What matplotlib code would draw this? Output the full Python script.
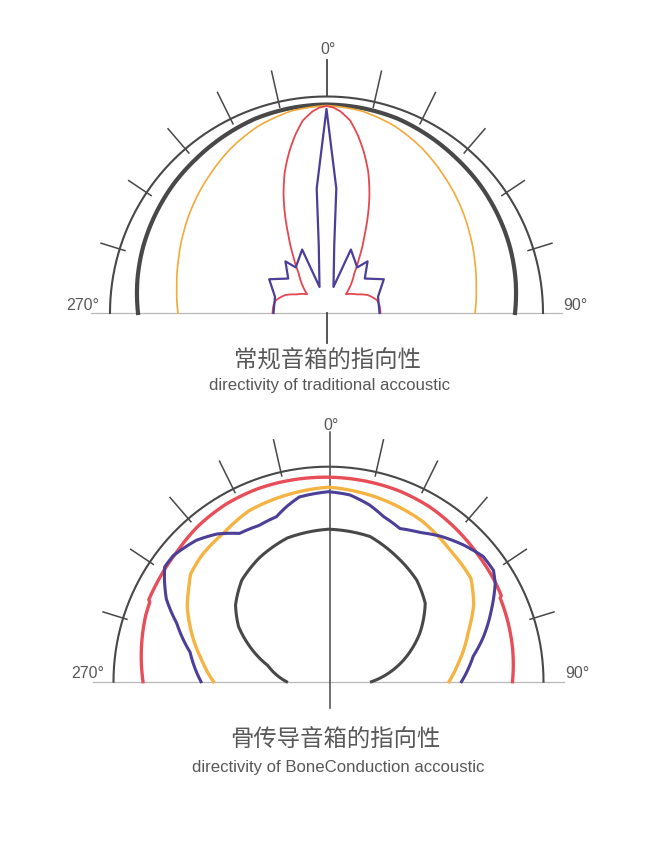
import numpy as np
import matplotlib
matplotlib.use("Agg")
import matplotlib.pyplot as plt
from matplotlib.path import Path

# ====== traditional speaker (upper chart) ======
# angles in degrees, 0 = front, negative = left (270 side), radius in px-units
trad_ring_deg = [-90, -80, -70, -60, -50, -40, -30, -20, -10, 0,
                 10, 20, 30, 40, 50, 60, 70, 80, 90]
trad_ring_r = [188.5, 192, 195, 197.5, 200, 202, 204.5, 207, 208, 208.5,
               208, 207, 204.5, 202, 200, 197.5, 195, 192, 188.5]
trad_orange_r = [148.5, 152, 157.5, 164.5, 172.5, 181, 190.5, 199, 205, 207.5,
                 205, 199, 190.5, 181, 172.5, 164.5, 157.5, 152, 148.5]
# left half of the symmetric patterns (from 270 to 0)
trad_red_deg = [-90, -81, -75.5, -66.5, -58.5, -46, -35, -30.5, -26, -23,
                -20, -16.5, -13, -10, -7, -4, -2, 0]
trad_red_r = [54, 53.5, 52, 45, 35.5, 27, 48.5, 65, 87, 106,
              125.5, 147, 165.5, 180.5, 194, 202, 205.5, 207]
trad_blue_deg = [-90, -72.5, -59.5, -48, -38.5, -34, -21, -15, -6.5, -4.5, 0]
trad_blue_r = [53, 54, 66.5, 51.5, 66, 55, 68, 27, 68.5, 125, 204]

# ====== bone conduction speaker (lower chart) ======
bone_red_deg = [-90, -80, -70, -66, -65.5, -60, -50, -40, -30, -20, -10, 0,
                10, 20, 30, 40, 50, 60, 63.5, 64, 70, 80, 90]
bone_red_r = [185.5, 190, 194.5, 195.5, 197.5, 198, 199.5, 203, 205, 205.5, 205, 204.5,
              204, 203.5, 202, 199, 196, 194, 193, 191, 189.5, 187, 184]
bone_orange_deg = [-90, -80, -70, -62, -57, -52, -45, -35, -25, -12, 0,
                   15, 30, 43, 54, 62, 70, 82, 90]
bone_orange_r = [115, 129, 146, 160, 167, 175, 179, 182, 188.5, 191.5, 194.5,
                 190.5, 186, 179, 176, 164.5, 149, 131, 120.5]
bone_blue_deg = [-90, -78, -69, -63, -58, -55, -51, -43, -37, -31, -24, -17.5, -13.5, -9, 0,
                 6.5, 13, 18.5, 25, 31.5, 37.5, 44.5, 51, 56, 59.5, 66, 74, 80, 90]
bone_blue_r = [127.5, 141.5, 162.5, 182, 193.5, 200, 200, 193.5, 185, 173, 171, 173, 180, 187, 190,
               188, 181.5, 174, 169, 175, 183.5, 192, 199, 199, 193.5, 178.5, 161, 147, 133]
bone_black_deg = [-90, -75, -66, -58.5, -50.5, -40.5, -29, -16, 0,
                  16, 28.5, 41, 51, 62, 74, 90]
bone_black_r = [42, 63, 86, 105.5, 120.5, 133.5, 142, 149.5, 152.5,
                151, 142.5, 134.5, 124.5, 103.5, 78, 43]

tick_deg = [12.8, 26.3, 40.7, 56.2, 72.8]
tick_out = [248, 246, 243, 238, 236]

DARK = "#484848"
GRID = "#b8b8b8"
TXT = "#585858"
CJK = ["Noto Sans CJK SC", "DejaVu Sans"]
LAT = ["Liberation Sans", "DejaVu Sans"]


def to_xy(deg, r, steps=1):
    # polar line: segments run linearly in (angle, radius), like a polar axes does
    tr = Path(np.column_stack([deg, r]).astype(float)).interpolated(steps).vertices
    t = np.deg2rad(tr[:, 0])
    return tr[:, 1] * np.sin(t), tr[:, 1] * np.cos(t)


def mirror(deg, r):
    """left half -> full symmetric pattern"""
    d = list(deg) + [-a for a in reversed(deg[:-1])]
    rr = list(r) + list(reversed(r[:-1]))
    return d, rr


def draw_frame(ax, R):
    x, y = to_xy([-90, 90], [R, R], steps=180)
    ax.plot(x, y, color=DARK, lw=1.5)
    for a, o in zip(tick_deg, tick_out):
        for s in (-1, 1):
            x, y = to_xy([s * a, s * a], [211, o])
            ax.plot(x, y, color=DARK, lw=1.1)
    ax.plot([-236, 235], [0, 0], color=GRID, lw=0.9, zorder=0)


def pattern(ax, deg, r, color, lw, steps=12):
    x, y = to_xy(deg, r, steps)
    ax.plot(x, y, color=color, lw=lw, solid_joinstyle="round")


fig = plt.figure(figsize=(6.59, 8.41), dpi=100)
fig.patch.set_facecolor("white")

# ---- upper chart ----
ax = fig.add_axes([0, 441 / 841, 1, 400 / 841])
ax.set_xlim(-326.5, 332.5)
ax.set_ylim(-87, 313)
ax.axis("off")

draw_frame(ax, 216.5)
ax.plot([0, 0], [216.5, 253], color=DARK, lw=1.3)
ax.plot([0, 0], [0, -30], color=DARK, lw=1.3)
pattern(ax, trad_ring_deg, trad_ring_r, DARK, 3.0)
pattern(ax, trad_ring_deg, trad_orange_r, "#f2aa3a", 1.2)
pattern(ax, *mirror(trad_red_deg, trad_red_r), "#e5474f", 1.3)
pattern(ax, *mirror(trad_blue_deg, trad_blue_r), "#4b3f98", 1.6, steps=1)

ax.text(1.5, 259, "0°", ha="center", va="baseline", fontsize=11.5, color=TXT, family=LAT)
ax.text(-260.5, 2.5, "270°", ha="left", va="baseline", fontsize=11.5, color=TXT, family=LAT)
ax.text(236.5, 2.5, "90°", ha="left", va="baseline", fontsize=11.5, color=TXT, family=LAT)
ax.text(0.5, -54.5, "常规音箱的指向性", ha="center", va="baseline",
        fontsize=16.8, color=TXT, family=CJK)
ax.text(2.9, -77, "directivity of traditional accoustic", ha="center", va="baseline",
        fontsize=12.1, color=TXT, family=LAT)

# ---- lower chart ----
ax2 = fig.add_axes([0, 0, 1, 441 / 841])
ax2.set_xlim(-328.5, 330.5)
ax2.set_ylim(-159.3, 281.7)
ax2.axis("off")

draw_frame(ax2, 215)
ax2.plot([1.5, 1.5], [249.7, -26.3], color=DARK, lw=1.1)
pattern(ax2, bone_black_deg, bone_black_r, DARK, 2.2)
pattern(ax2, bone_red_deg, bone_red_r, "#e84e57", 2.4)
pattern(ax2, bone_orange_deg, bone_orange_r, "#f5b342", 2.4)
pattern(ax2, bone_blue_deg, bone_blue_r, "#4b3f98", 2.2)

ax2.text(2.5, 251.7, "0°", ha="center", va="baseline", fontsize=11.5, color=TXT, family=LAT)
ax2.text(-256.8, 3.4, "270°", ha="left", va="baseline", fontsize=11.5, color=TXT, family=LAT)
ax2.text(236.5, 3.4, "90°", ha="left", va="baseline", fontsize=11.5, color=TXT, family=LAT)
ax2.text(6.5, -65, "骨传导音箱的指向性", ha="center", va="baseline",
         fontsize=16.8, color=TXT, family=CJK)
ax2.text(9.5, -90.6, "directivity of BoneConduction accoustic", ha="center", va="baseline",
         fontsize=12.1, color=TXT, family=LAT)

fig.savefig("out.png", dpi=100, facecolor="white")
